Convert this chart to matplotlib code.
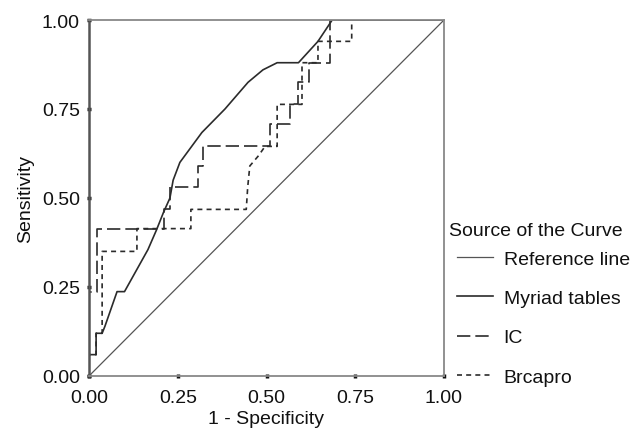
import matplotlib
matplotlib.use("Agg")
import matplotlib.pyplot as plt

plt.rcParams['font.family'] = ['Liberation Sans', 'DejaVu Sans']

# Reference line
ref_x = [0.0, 1.0]
ref_y = [0.0, 1.0]

# Myriad tables (fine-stepped ROC curve)
myriad_x = [0.0, 0.0, 0.02, 0.02, 0.037, 0.045, 0.079, 0.10, 0.166, 0.19, 0.21, 0.228,
            0.237, 0.256, 0.318, 0.383, 0.448, 0.49, 0.53, 0.59, 0.645, 0.685, 1.0]
myriad_y = [0.0, 0.06, 0.06, 0.12, 0.12, 0.14, 0.237, 0.237, 0.355, 0.41, 0.46, 0.50,
            0.55, 0.60, 0.684, 0.75, 0.825, 0.86, 0.88, 0.88, 0.94, 1.0, 1.0]

# IC
ic_x = [0.0, 0.0, 0.023, 0.023, 0.21, 0.21, 0.228, 0.228, 0.307, 0.307, 0.32, 0.32,
        0.51, 0.51, 0.566, 0.566, 0.59, 0.59, 0.62, 0.62, 0.68, 0.68, 1.0]
ic_y = [0.0, 0.237, 0.237, 0.414, 0.414, 0.47, 0.47, 0.53, 0.53, 0.59, 0.59, 0.645,
        0.645, 0.707, 0.707, 0.763, 0.763, 0.825, 0.825, 0.88, 0.88, 1.0, 1.0]

# Brcapro
brc_x = [0.0, 0.0, 0.02, 0.02, 0.037, 0.037, 0.135, 0.135, 0.287, 0.287, 0.443, 0.447,
         0.453, 0.476, 0.496, 0.53, 0.53, 0.60, 0.60, 0.645, 0.645, 0.74, 0.74, 1.0]
brc_y = [0.0, 0.06, 0.06, 0.12, 0.12, 0.35, 0.35, 0.414, 0.414, 0.468, 0.468, 0.53,
         0.59, 0.617, 0.645, 0.645, 0.763, 0.763, 0.88, 0.88, 0.94, 0.94, 1.0, 1.0]

ticks = [0.0, 0.25, 0.5, 0.75, 1.0]
tick_labels = ['0.00', '0.25', '0.50', '0.75', '1.00']

W, H = 637, 431
FS = 14
fig = plt.figure(figsize=(W / 100, H / 100), dpi=100)
ax = fig.add_axes([89 / W, (H - 377) / H, (444 - 89) / W, (377 - 21) / H])

lc = '#2b2b2b'
ax.plot(ref_x, ref_y, color='#555555', lw=0.9, label='Reference line')
ax.plot(myriad_x, myriad_y, color=lc, lw=1.2, label='Myriad tables')
ax.plot(ic_x, ic_y, color=lc, lw=1.2, dashes=(8, 3), label='IC')
ax.plot(brc_x, brc_y, color=lc, lw=1.2, dashes=(3, 2.5), label='Brcapro')

ax.set_xlim(0, 1)
ax.set_ylim(0, 1)
ax.set_xticks(ticks)
ax.set_xticklabels(tick_labels)
ax.set_yticks(ticks)
ax.set_yticklabels(tick_labels)
ax.tick_params(direction='inout', length=3, width=2.5, color='#111111',
               labelsize=FS, labelcolor='#111111')
ax.tick_params(axis='x', pad=8)
ax.tick_params(axis='y', pad=5)

for side in ['top', 'right']:
    ax.spines[side].set_color('#888888')
    ax.spines[side].set_linewidth(1.3)
ax.spines['left'].set_color('#555555')
ax.spines['left'].set_linewidth(1.8)
ax.spines['bottom'].set_color('#888888')
ax.spines['bottom'].set_linewidth(1.3)

ax.set_xlabel('1 - Specificity', fontsize=FS, labelpad=3, color='#111111')
ax.set_ylabel('Sensitivity', fontsize=FS, labelpad=6, color='#111111')

fig.text(449 / W, (H - 232) / H, 'Source of the Curve', fontsize=FS,
         color='#111111', ha='left', va='center')
leg = ax.legend(loc='upper left', bbox_to_anchor=(457 / W, (H - 251) / H),
                bbox_transform=fig.transFigure, frameon=False, fontsize=FS,
                handlelength=1.85, handletextpad=0.55, labelspacing=1.12,
                borderpad=0, borderaxespad=0)
for t in leg.get_texts():
    t.set_color('#111111')

fig.savefig('out.png', dpi=100)
